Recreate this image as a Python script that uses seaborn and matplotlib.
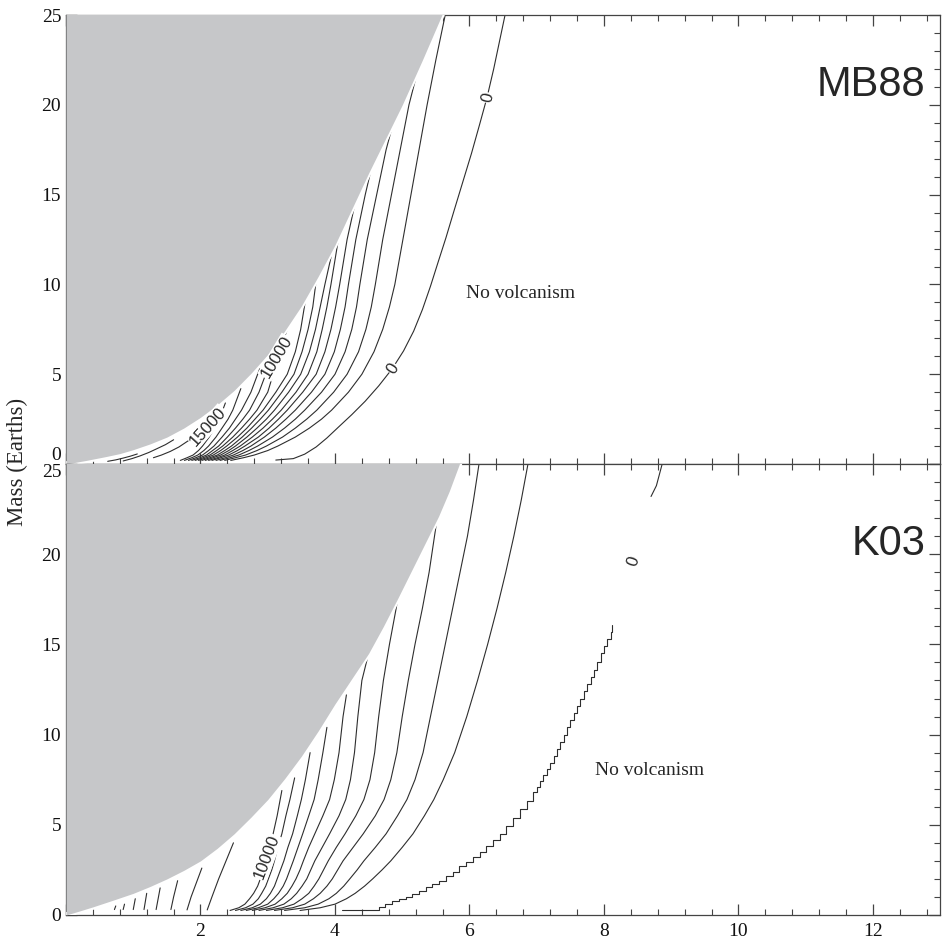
import pandas as pd
import matplotlib
matplotlib.use("Agg")
import matplotlib.pyplot as plt
import seaborn as sns
from matplotlib.ticker import MultipleLocator

# --- grey (excluded) region, boundary ---
mb88_edge_x = [0, 0.3, 0.6, 0.8, 1.0, 1.25, 1.5, 1.75, 2.0, 2.25, 2.5, 2.75, 3.0, 3.25, 3.5,
               3.75, 4.0, 4.25, 4.5, 4.75, 5.0, 5.3, 5.6, 5.62]
mb88_edge_m = [0, 0.2, 0.42, 0.58, 0.8, 1.12, 1.5, 2.0, 2.6, 3.3, 4.1, 5.05, 6.1, 7.4, 8.8,
               10.45, 12.2, 14.2, 16.2, 18.1, 20.0, 22.5, 25.1, 25.5]
k03_edge_x = [0, 0.2, 0.4, 0.7, 1.0, 1.25, 1.5, 1.75, 2.0, 2.25, 2.5, 2.75, 3.0, 3.25, 3.5,
              3.75, 4.0, 4.25, 4.5, 4.72, 4.94, 5.24, 5.54, 5.7, 5.85, 5.87]
k03_edge_m = [0, 0.22, 0.45, 0.82, 1.2, 1.58, 2.0, 2.47, 3.0, 3.7, 4.5, 5.42, 6.4, 7.55, 8.8,
              10.2, 11.7, 13.1, 14.5, 16.0, 17.6, 19.85, 22.1, 23.5, 25.0, 25.5]

# --- MB88: x of each contour at these masses, then its end point at the grey edge ---
mb88_mass = [0.2, 0.35, 0.5, 0.75, 1, 1.5, 2, 2.5, 3, 4, 5, 6.25, 7.5, 8.75, 10, 12.5, 15, 17.5, 20, 22.5, 25.2]
mb88_c1000 = [2.45, 2.64, 2.8, 3.0, 3.15, 3.41, 3.62, 3.8, 3.95, 4.2, 4.4, 4.58, 4.71, 4.81, 4.89, 5.01, 5.13, 5.25, 5.37, 5.5, 5.65]
mb88_c2000 = [2.36, 2.52, 2.67, 2.84, 2.98, 3.22, 3.41, 3.58, 3.73, 3.98, 4.18, 4.35, 4.46, 4.54, 4.6, 4.71, 4.84, 4.97, 5.1]
mb88_c3000 = [2.29, 2.44, 2.57, 2.72, 2.85, 3.07, 3.25, 3.41, 3.55, 3.8, 4.0, 4.15, 4.25, 4.32, 4.37, 4.48, 4.62, 4.76]
mb88_c4000 = [2.23, 2.37, 2.49, 2.63, 2.75, 2.95, 3.12, 3.27, 3.41, 3.65, 3.85, 3.99, 4.08, 4.15, 4.2, 4.31, 4.45]
mb88_c5000 = [2.17, 2.3, 2.42, 2.55, 2.66, 2.86, 3.02, 3.16, 3.29, 3.52, 3.72, 3.85, 3.94, 4.01, 4.07, 4.18]
mb88_c6000 = [2.12, 2.25, 2.36, 2.48, 2.59, 2.77, 2.93, 3.07, 3.2, 3.42, 3.6, 3.73, 3.81, 3.88, 3.94, 4.05]
mb88_c7000 = [2.07, 2.19, 2.3, 2.42, 2.52, 2.69, 2.84, 2.98, 3.1, 3.31, 3.49, 3.62, 3.71, 3.78, 3.85]
mb88_c8000 = [2.02, 2.14, 2.25, 2.36, 2.46, 2.62, 2.76, 2.89, 3.01, 3.21, 3.39, 3.51, 3.6, 3.67]
mb88_c9000 = [1.97, 2.09, 2.19, 2.3, 2.39, 2.55, 2.69, 2.81, 2.93, 3.12, 3.29, 3.41, 3.49]
mb88_c10000 = [1.92, 2.04, 2.14, 2.24, 2.33, 2.48, 2.61, 2.73, 2.84, 3.0, 3.08]
mb88_c11000 = [1.87, 1.99, 2.09, 2.18, 2.27, 2.4, 2.52, 2.63, 2.73, 2.87, 2.97]
mb88_c12000 = [1.82, 1.93, 2.03, 2.12, 2.2, 2.32, 2.43, 2.52, 2.61, 2.75]
mb88_c13000 = [1.76, 1.87, 1.96, 2.05, 2.12, 2.23, 2.32, 2.41, 2.48]
mb88_c14000 = [1.7, 1.8, 1.89, 1.97, 2.03, 2.13, 2.21, 2.28]
mb88_ends = [[], [(5.23, 21.9)], [(4.86, 18.9)], [(4.55, 16.6)], [(4.31, 14.7)], [(4.13, 13.2)],
             [(3.97, 12.0)], [(3.73, 10.5)], [(3.56, 9.1)], [(3.15, 6.0), (3.3, 7.6)],
             [(3.04, 6.2)], [(2.88, 5.3)], [(2.6, 4.2)], [(2.37, 3.4)]]
# lines hugging the grey edge and the zero line, as (x, mass) pairs
mb88_c15000 = [(1.3, 0.35), (1.42, 0.5), (1.55, 0.7), (1.68, 0.95), (1.8, 1.25), (1.92, 1.55),
               (2.02, 1.85), (2.11, 2.1), (2.19, 2.4), (2.24, 2.7)]
mb88_c16000 = [(0.85, 0.17), (0.98, 0.3), (1.1, 0.45), (1.23, 0.64), (1.35, 0.85), (1.48, 1.08), (1.6, 1.35)]
mb88_c17000 = [(0.62, 0.15), (0.74, 0.23), (0.85, 0.33), (0.96, 0.44), (1.06, 0.56)]
mb88_c0 = [(3.12, 0.22), (3.38, 0.3), (3.55, 0.55), (3.72, 0.95), (3.88, 1.45), (4.05, 2.05),
           (4.25, 2.75), (4.45, 3.5), (4.65, 4.35), (4.85, 5.3), (5.02, 6.3), (5.17, 7.4),
           (5.3, 8.6), (5.42, 9.9), (5.53, 11.2), (5.65, 12.6), (5.77, 14.1), (5.9, 15.7),
           (6.03, 17.3), (6.15, 18.9), (6.26, 20.4), (6.36, 22.0), (6.45, 23.6), (6.54, 25.2)]

# --- K03 ---
k03_mass = [0.25, 0.4, 0.6, 0.9, 1.2, 1.6, 2.0, 2.5, 3.0, 3.75, 4.5, 5.5, 6.4, 7.5, 9, 11, 13, 15, 17, 19, 21, 23, 25.2]
k03_c1000 = [3.48, 3.78, 4.0, 4.17, 4.3, 4.44, 4.56, 4.7, 4.83, 5.0, 5.16, 5.33, 5.47, 5.61, 5.78, 5.96, 6.12, 6.27, 6.41, 6.54, 6.66, 6.77, 6.88]
k03_c2000 = [3.25, 3.55, 3.75, 3.91, 4.02, 4.13, 4.22, 4.33, 4.43, 4.6, 4.76, 4.93, 5.07, 5.19, 5.31, 5.42, 5.53, 5.64, 5.75, 5.86, 5.97, 6.06, 6.15]
k03_c3000 = [3.1, 3.37, 3.55, 3.68, 3.78, 3.88, 3.96, 4.04, 4.12, 4.27, 4.42, 4.6, 4.73, 4.83, 4.92, 5.0, 5.09, 5.19, 5.3, 5.4, 5.48]
k03_c4000 = [2.98, 3.22, 3.39, 3.51, 3.61, 3.69, 3.76, 3.83, 3.9, 4.02, 4.15, 4.31, 4.43, 4.52, 4.59, 4.65, 4.72, 4.81, 4.91]
k03_c5000 = [2.87, 3.08, 3.24, 3.35, 3.43, 3.51, 3.58, 3.64, 3.7, 3.81, 3.92, 4.06, 4.16, 4.23, 4.29, 4.34, 4.4]
k03_c6000 = [2.77, 2.96, 3.11, 3.21, 3.29, 3.36, 3.42, 3.48, 3.53, 3.61, 3.7, 3.82, 3.92, 3.99, 4.06, 4.12]
k03_c7000 = [2.68, 2.86, 3.0, 3.09, 3.16, 3.23, 3.28, 3.33, 3.38, 3.45, 3.52, 3.61, 3.69, 3.75, 3.82]
k03_c8000 = [2.6, 2.77, 2.89, 2.98, 3.04, 3.1, 3.14, 3.19, 3.24, 3.3, 3.37, 3.44, 3.5, 3.56]
k03_c9000 = [2.52, 2.67, 2.78, 2.86, 2.91, 2.97, 3.01, 3.06, 3.1, 3.15, 3.21, 3.27, 3.33]
k03_c10000 = [2.44, 2.57, 2.66, 2.73, 2.79, 2.85, 2.89, 2.94, 2.98, 3.03, 3.08, 3.14]
k03_ends = [[], [], [(5.52, 22.0)], [(4.94, 17.7)], [(4.5, 14.5)], [(4.17, 12.2)], [(3.88, 10.4)],
            [(3.63, 9.0)], [(3.4, 7.6)], [(3.21, 6.9)]]
k03_c11000 = [(2.1, 0.28), (2.17, 1.0), (2.27, 2.0), (2.38, 3.0), (2.49, 4.0)]
k03_c12000 = [(1.8, 0.28), (1.86, 1.0), (1.94, 1.8), (2.02, 2.6)]
k03_c13000 = [(1.56, 0.3), (1.6, 1.0), (1.66, 1.9)]
k03_c14000 = [(1.34, 0.3), (1.37, 0.9), (1.4, 1.5)]
k03_c15000 = [(1.16, 0.3), (1.18, 0.75), (1.2, 1.2)]
k03_c16000 = [(1.0, 0.3), (1.03, 0.9)]
k03_c17000 = [(0.85, 0.3), (0.87, 0.6)]
k03_c18000 = [(0.72, 0.3), (0.74, 0.5)]
# zero line of K03 is a staircase; lower and upper pieces
k03_c0_low = [(4.1, 0.25), (4.55, 0.28), (4.65, 0.45), (4.75, 0.6), (4.85, 0.75), (4.95, 0.88),
              (5.05, 1.0), (5.15, 1.15), (5.25, 1.35), (5.35, 1.55), (5.45, 1.72), (5.55, 1.9),
              (5.65, 2.15), (5.75, 2.4), (5.85, 2.7), (5.95, 2.95), (6.05, 3.2), (6.15, 3.5),
              (6.25, 3.85), (6.35, 4.15), (6.45, 4.5), (6.55, 4.95), (6.65, 5.4), (6.75, 5.85),
              (6.85, 6.3), (6.95, 6.8), (7.0, 7.1), (7.05, 7.4), (7.1, 7.75), (7.15, 8.1),
              (7.2, 8.45), (7.25, 8.8), (7.3, 9.2), (7.35, 9.6), (7.4, 10.0), (7.45, 10.4),
              (7.5, 10.8), (7.55, 11.2), (7.6, 11.6), (7.65, 12.0), (7.7, 12.4), (7.75, 12.8),
              (7.8, 13.2), (7.85, 13.6), (7.9, 14.05), (7.95, 14.5), (8.0, 14.9), (8.05, 15.3),
              (8.1, 15.7), (8.12, 16.1)]
k03_c0_high = [(8.7, 23.2), (8.78, 23.8), (8.83, 24.5), (8.88, 25.2)]

# contour labels: text, x, mass, rotation
mb88_labels = [("15000", 2.11, 2.1, 48), ("10000", 3.13, 5.95, 59), ("0", 4.87, 5.3, 58), ("0", 6.27, 20.4, 77)]
k03_labels = [("10000", 2.99, 3.2, 69), ("0", 8.44, 19.6, 72)]


def fan(mass, xs_list, ends):
    out = []
    for xs, tail in zip(xs_list, ends):
        out.append(list(zip(xs, mass)) + tail)
    return out


def to_frame(lines):
    rows = []
    for i, pts in enumerate(lines):
        for x, m in pts:
            rows.append({"line": i, "x": x, "mass": m})
    return pd.DataFrame(rows)


mb88_smooth = fan(mb88_mass, [mb88_c1000, mb88_c2000, mb88_c3000, mb88_c4000, mb88_c5000,
                              mb88_c6000, mb88_c7000, mb88_c8000, mb88_c9000, mb88_c10000,
                              mb88_c11000, mb88_c12000, mb88_c13000, mb88_c14000], mb88_ends)
mb88_smooth += [mb88_c15000, mb88_c16000, mb88_c17000, mb88_c0]
mb88_steps = []
k03_smooth = fan(k03_mass, [k03_c1000, k03_c2000, k03_c3000, k03_c4000, k03_c5000, k03_c6000,
                            k03_c7000, k03_c8000, k03_c9000, k03_c10000], k03_ends)
k03_smooth += [k03_c11000, k03_c12000, k03_c13000, k03_c14000, k03_c15000, k03_c16000,
               k03_c17000, k03_c18000, k03_c0_high]
k03_steps = [k03_c0_low]

sns.set_theme(style="ticks")
plt.rcParams["font.family"] = ["Liberation Serif", "DejaVu Serif"]
plt.rcParams["axes.linewidth"] = 0.9

fig = plt.figure(figsize=(9.43, 9.46), dpi=100)
ax_top = fig.add_axes([0.070, 0.5095, 0.927, 0.4745])
ax_bot = fig.add_axes([0.070, 0.0328, 0.927, 0.4767])

gray = "#c6c7c9"
line_col = "#2e2e2e"
sans = ["Liberation Sans", "DejaVu Sans"]
panels = [
    (ax_top, mb88_smooth, mb88_steps, mb88_edge_x, mb88_edge_m, mb88_labels, "MB88", 0.845, (5.95, 9.5)),
    (ax_bot, k03_smooth, k03_steps, k03_edge_x, k03_edge_m, k03_labels, "K03", 0.823, (7.87, 8.0)),
]

for ax, smooth, steps, ex, em, labels, name, name_y, nv in panels:
    sns.lineplot(data=to_frame(smooth), x="x", y="mass", units="line", estimator=None, sort=False,
                 color=line_col, lw=0.8, ax=ax, legend=False, zorder=2)
    if steps:
        sns.lineplot(data=to_frame(steps), x="x", y="mass", units="line", estimator=None, sort=False,
                     color=line_col, lw=0.8, ax=ax, legend=False, zorder=2, drawstyle="steps-post")
    ax.plot(ex, em, color="white", lw=4, zorder=3, solid_capstyle="butt")
    ax.fill_between(ex, em, 26, color=gray, lw=0, zorder=4)
    for txt, x, m, rot in labels:
        ax.text(x, m, txt, rotation=rot, ha="center", va="center", rotation_mode="anchor",
                fontsize=12, family=sans, zorder=5, bbox=dict(fc="white", ec="none", pad=0.5))
    ax.text(0.983, name_y, name, transform=ax.transAxes, ha="right", va="center",
            fontsize=30, family=sans, zorder=6)
    ax.text(nv[0], nv[1], "No volcanism", ha="left", va="center", fontsize=14, zorder=6)

    ax.set_xlim(0, 13)
    ax.set_ylim(0, 25)
    ax.set_xlabel("")
    ax.set_ylabel("")
    ax.xaxis.set_major_locator(MultipleLocator(2))
    ax.xaxis.set_minor_locator(MultipleLocator(0.4))
    ax.yaxis.set_major_locator(MultipleLocator(5))
    ax.yaxis.set_minor_locator(MultipleLocator(1))
    ax.tick_params(which="both", direction="in", top=True, right=True, color="#444444",
                   labelsize=14, labelcolor="#111111")
    ax.tick_params(which="major", length=8, width=0.9)
    ax.tick_params(which="minor", length=4, width=0.8)
    ax.tick_params(axis="x", pad=6)
    for s in ax.spines.values():
        s.set_color("#444444")

ax_top.tick_params(axis="x", labelbottom=False)
ax_bot.set_xticks([0, 2, 4, 6, 8, 10, 12])
ax_bot.set_xticklabels(["", "2", "4", "6", "8", "10", "12"])
ax_top.set_yticks([0, 5, 10, 15, 20, 25])
ax_bot.set_yticks([0, 5, 10, 15, 20, 25])
ax_top.yaxis.get_major_ticks()[0].label1.set_va("bottom")
ax_bot.yaxis.get_major_ticks()[-1].label1.set_va("top")

fig.text(0.019, 0.512, "Mass (Earths)", rotation=90, ha="center", va="center", fontsize=16.5)

fig.savefig("out.png", dpi=100)
